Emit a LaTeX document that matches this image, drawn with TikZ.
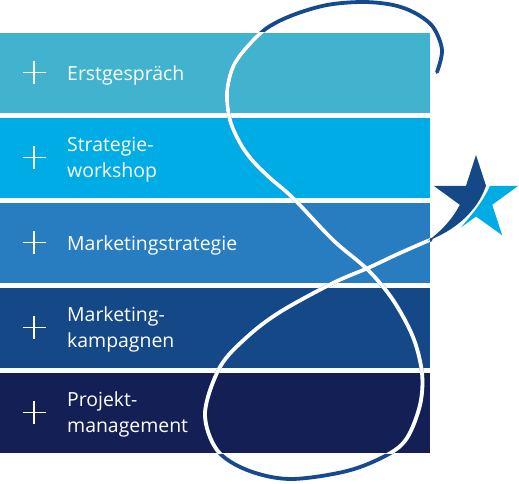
\documentclass[tikz,border=0pt]{standalone}
\usepackage{fontspec}
\setmainfont{Open Sans}
\definecolor{cA}{HTML}{41B3CE}
\definecolor{cB}{HTML}{00ACE6}
\definecolor{cC}{HTML}{287DC1}
\definecolor{cD}{HTML}{154886}
\definecolor{cE}{HTML}{141F55}
\definecolor{curveblue}{HTML}{174A8C}
\definecolor{stardark}{HTML}{154886}
\definecolor{starlight}{HTML}{00ACE6}
\begin{document}
\begin{tikzpicture}[x=1bp,y=-1bp,
  bar/.style={draw=none, inner sep=0pt, anchor=north west, minimum width=430bp, minimum height=79.5bp},
  lbl/.style={text=white, inner sep=0pt, anchor=base west, align=left, font=\fontsize{19.5}{25.8}\selectfont},
  plussign/.pic={\draw[white, line width=1.2bp] (-11.5,0)--(11.5,0) (0,-11.5)--(0,11.5);},
  swirl/.style={insert path={plot[smooth, tension=0.55] coordinates {
    (437,72) (442,50) (433,27) (415,13) (393,5) (363,2) (327,5) (293,15) (267,28)
    (247,47) (233,67) (227,93) (230,120) (240,143) (252,160) (270,178) (293,198)
    (333,240) (368,270) (393,300) (413,337) (422,373) (420,405) (407,438) (387,455)
    (347,471) (290,479) (247,470) (217,450) (205,413) (220,367) (247,337) (280,312)
    (333,283) (368,268) (400,253) (431,239.5)}}},
  swirlline/.style={line width=3.8bp, line cap=round, line join=round}
]
\useasboundingbox (0,0) rectangle (519,484);
% bars
\node[bar, fill=cA] (b1) at (0,33) {};
\node[bar, fill=cB] (b2) at (0,118) {};
\node[bar, fill=cC] (b3) at (0,203) {};
\node[bar, fill=cD] (b4) at (0,288) {};
\node[bar, fill=cE] (b5) at (0,373) {};
% plus signs
\pic at (34,72.7) {plussign};
\pic at (34,157.7) {plussign};
\pic at (34,242.7) {plussign};
\pic at (34,327.7) {plussign};
\pic at (34,412.7) {plussign};
% labels (base anchor = last line)
\node[lbl] (t1) at (67,80.3) {Erstgespräch};
\node[lbl] (t2) at (67,177.2) {Strategie-\\workshop};
\node[lbl] (t3) at (67,250.7) {Marketingstrategie};
\node[lbl] (t4) at (67,347.7) {Marketing-\\kampagnen};
\node[lbl] (t5) at (67,432.5) {Projekt-\\management};
% swirl: blue outside, white inside the bars
\draw[swirlline, draw=curveblue, swirl];
\begin{scope}
  \clip (0,33) rectangle (430,453);
  \draw[swirlline, draw=white, swirl];
\end{scope}
% star, light part
\fill[starlight] (490,185.8) -- (518.3,185.8) -- (492.2,204.8) -- (502.2,235.3)
  -- (476,216.5) -- (460.8,227.6)
  .. controls (470,217) and (483,202) .. (490,185.8) -- cycle;
% star, dark part with tail
\fill[stardark] (476,155) -- (486,185.8)
  .. controls (480,203) and (465,226) .. (428,240.8)
  .. controls (440,232) and (452,220) .. (459.8,204.8)
  -- (433.7,185.8) -- (466,185.8) -- cycle;
\end{tikzpicture}
\end{document}
